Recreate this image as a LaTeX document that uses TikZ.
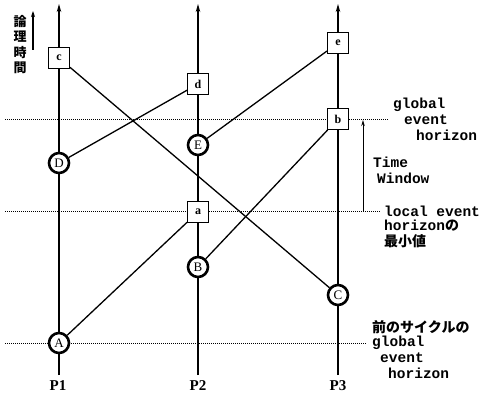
\documentclass[tikz,border=0pt]{standalone}
\usepackage{fontspec}
\setmainfont{Liberation Serif}
\newfontfamily\jpf{Noto Sans CJK JP}
\newfontfamily\monof{Liberation Mono}
\usetikzlibrary{arrows.meta}
\tikzset{
  proc/.style={line width=1.6pt, -{Stealth[length=8pt,width=4.5pt]}},
  evsq/.style={draw, line width=0.9pt, fill=white, minimum size=21pt, inner sep=0pt, font=\bfseries\fontsize{12}{12}\selectfont},
  evci/.style={circle, draw, line width=2.6pt, fill=white, minimum size=20pt, inner sep=0pt, font=\fontsize{13}{13}\selectfont},
  msg/.style={line width=1.3pt},
  hz/.style={densely dotted, line width=1pt},
  lbl/.style={font=\monof\bfseries\fontsize{14.5}{15}\selectfont, anchor=west, inner sep=0pt},
  jlbl/.style={font=\jpf\bfseries\fontsize{14}{15}\selectfont, anchor=west, inner sep=0pt},
  plbl/.style={font=\bfseries\fontsize{15}{15}\selectfont, inner sep=0pt}
}
\begin{document}
\begin{tikzpicture}[x=1pt,y=-1pt]
\useasboundingbox (0,0) rectangle (487,395);
% horizon lines
\coordinate (h1l) at (5,120); \coordinate (h1r) at (388,120);
\coordinate (h2l) at (5,212); \coordinate (h2r) at (380,212);
\coordinate (h3l) at (5,343); \coordinate (h3r) at (366,343);
\draw[hz] (h1l) -- (h1r);
\draw[hz] (h2l) -- (h2r);
\draw[hz] (h3l) -- (h3r);
% process lines
\coordinate (p1b) at (59,375); \coordinate (p1t) at (59,4);
\coordinate (p2b) at (198,375); \coordinate (p2t) at (198,4);
\coordinate (p3b) at (338,375); \coordinate (p3t) at (338,4);
\draw[proc] (p1b) -- (p1t);
\draw[proc] (p2b) -- (p2t);
\draw[proc] (p3b) -- (p3t);
% events
\node[evsq] (c) at (59,58) {c};
\node[evsq] (d) at (198,84) {d};
\node[evsq] (e) at (338,43) {e};
\node[evsq] (b) at (338,119) {b};
\node[evsq] (a) at (198,212) {a};
\node[evci] (D) at (59,163) {D};
\node[evci] (E) at (198,145) {E};
\node[evci] (B) at (198,267) {B};
\node[evci] (C) at (338,295) {C};
\node[evci] (A) at (59,343) {A};
% messages
\draw[msg] (A) -- (a);
\draw[msg] (B) -- (b);
\draw[msg] (C) -- (c);
\draw[msg] (D) -- (d);
\draw[msg] (E) -- (e);
% logical time
\coordinate (lt0) at (33,50); \coordinate (lt1) at (33,11);
\draw[line width=1.3pt, -{Stealth[length=6pt,width=4pt]}] (lt0) -- (lt1);
\node[font=\jpf\bfseries\fontsize{13}{15.5}\selectfont, align=center, inner sep=0pt, anchor=north] (lt) at (20,15) {論\\理\\時\\間};
% time window
\coordinate (tw0) at (363,212); \coordinate (tw1) at (363,120);
\draw[line width=0.9pt, -{Stealth[length=6pt,width=3.5pt]}] (tw0) -- (tw1);
% labels
\node[lbl] (g1) at (393,105) {global};
\node[lbl] (g2) at (404,120) {event};
\node[lbl] (g3) at (416,135) {horizon};
\node[lbl] (t1) at (373,162) {Time};
\node[lbl] (t2) at (377,178) {Window};
\node[lbl] (l1) at (384,211) {local event};
\node[lbl] (l2) at (384,226) {horizon{\jpf\bfseries\fontsize{14}{15}\selectfont の}};
\node[jlbl] (l3) at (384,241) {最小値};
\node[jlbl] (q0) at (372,327) {前のサイクルの};
\node[lbl] (q1) at (372,343) {global};
\node[lbl] (q2) at (380,358) {event};
\node[lbl] (q3) at (388,373) {horizon};
\node[plbl] (P1) at (58,386) {P1};
\node[plbl] (P2) at (198,386) {P2};
\node[plbl] (P3) at (338,386) {P3};
\end{tikzpicture}
\end{document}
